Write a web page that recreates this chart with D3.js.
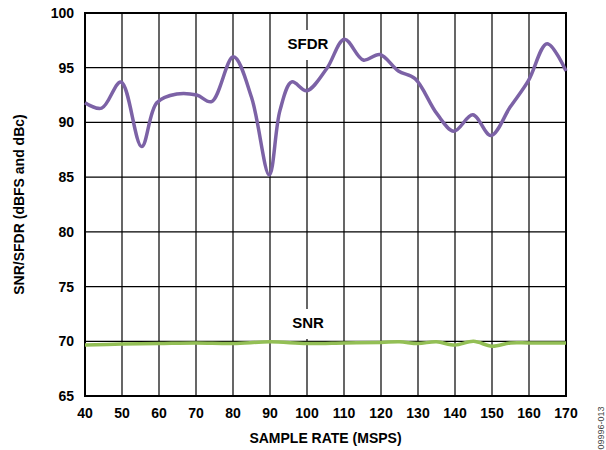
<!DOCTYPE html>
<html>
<head>
<meta charset="utf-8">
<script src="https://cdn.jsdelivr.net/npm/d3@7"></script>
<style>
  body { margin: 0; background: white; }
  svg { display: block; font-family: "Liberation Sans", Arial, sans-serif; }
</style>
</head>
<body>
<svg width="606" height="450"></svg>
<script>
// sample rate (MSPS) and values
const sfdrRate = [40, 44.5, 49.7, 55.3, 59.4, 64.8, 70.2, 74.2, 80.1, 85, 89.8, 92.7, 95.9, 99.9, 105.3, 110.1, 115.2, 119.7, 124.7, 129.2, 135.1, 139.7, 144.8, 149.7, 154.9, 159.8, 164.9, 170];
const sfdrValues = [91.8, 91.3, 93.7, 87.8, 91.8, 92.6, 92.5, 91.9, 96.0, 92.3, 85.2, 91.1, 93.7, 92.9, 94.9, 97.6, 95.7, 96.2, 94.7, 94.0, 90.8, 89.2, 90.7, 88.8, 91.4, 93.8, 97.2, 94.7];
const snrRate = [40, 50, 60, 70, 80, 90, 100, 110, 120, 125, 130, 135, 140, 145, 150, 155, 160, 170];
const snrValues = [69.65, 69.75, 69.8, 69.85, 69.8, 69.95, 69.8, 69.85, 69.9, 69.95, 69.8, 69.95, 69.65, 70.0, 69.55, 69.85, 69.85, 69.85];
const xTicks = d3.range(40, 171, 10);
const yTicks = d3.range(65, 101, 5);

const svg = d3.select("svg");
const plotLeft = 85, plotRight = 566, plotTop = 13, plotBottom = 396;

const x = d3.scaleLinear().domain([40, 170]).range([plotLeft, plotRight]);
const y = d3.scaleLinear().domain([65, 100]).range([plotBottom, plotTop]);

const grid = svg.append("g").attr("class", "grid");
grid.selectAll("line.v")
  .data(xTicks)
  .join("line")
  .attr("class", "v")
  .attr("x1", (d) => x(d))
  .attr("x2", (d) => x(d))
  .attr("y1", plotTop)
  .attr("y2", plotBottom)
  .attr("stroke", "black")
  .attr("stroke-width", 1.2);
grid.selectAll("line.h")
  .data(yTicks)
  .join("line")
  .attr("class", "h")
  .attr("x1", plotLeft)
  .attr("x2", plotRight)
  .attr("y1", (d) => y(d))
  .attr("y2", (d) => y(d))
  .attr("stroke", "black")
  .attr("stroke-width", 1.2);

svg.append("rect")
  .attr("x", plotLeft)
  .attr("y", plotTop)
  .attr("width", plotRight - plotLeft)
  .attr("height", plotBottom - plotTop)
  .attr("fill", "none")
  .attr("stroke", "black")
  .attr("stroke-width", 2);

// series labels sit on white boxes over the grid
function label(text, cx, cy) {
  svg.append("rect")
    .attr("x", cx - 26)
    .attr("y", cy - 14)
    .attr("width", 52)
    .attr("height", 30)
    .attr("fill", "white");
  svg.append("text")
    .attr("x", cx)
    .attr("y", cy + 5)
    .attr("text-anchor", "middle")
    .attr("font-size", 15)
    .attr("font-weight", "bold")
    .text(text);
}
label("SFDR", x(100) + 1, 44);
label("SNR", x(100) + 1, 323);

const line = d3.line()
  .x((d) => x(d[0]))
  .y((d) => y(d[1]))
  .curve(d3.curveCatmullRom.alpha(0.5));

svg.append("path")
  .datum(d3.zip(snrRate, snrValues))
  .attr("d", line)
  .attr("fill", "none")
  .attr("stroke", "#93bf55")
  .attr("stroke-width", 3.5)
  .attr("stroke-linejoin", "round");

svg.append("path")
  .datum(d3.zip(sfdrRate, sfdrValues))
  .attr("d", line)
  .attr("fill", "none")
  .attr("stroke", "#7c62a6")
  .attr("stroke-width", 3.5)
  .attr("stroke-linejoin", "round");

svg.append("g")
  .selectAll("text")
  .data(yTicks)
  .join("text")
  .attr("x", plotLeft - 11)
  .attr("y", (d) => y(d) + 5)
  .attr("text-anchor", "end")
  .attr("font-size", 14)
  .attr("font-weight", "bold")
  .text((d) => d);

svg.append("g")
  .selectAll("text")
  .data(xTicks)
  .join("text")
  .attr("x", (d) => x(d))
  .attr("y", plotBottom + 22)
  .attr("text-anchor", "middle")
  .attr("font-size", 14)
  .attr("font-weight", "bold")
  .text((d) => d);

svg.append("text")
  .attr("x", (plotLeft + plotRight) / 2)
  .attr("y", 443)
  .attr("text-anchor", "middle")
  .attr("font-size", 14)
  .attr("font-weight", "bold")
  .text("SAMPLE RATE (MSPS)");

svg.append("text")
  .attr("transform", `translate(24,${(plotTop + plotBottom) / 2}) rotate(-90)`)
  .attr("text-anchor", "middle")
  .attr("font-size", 14)
  .attr("font-weight", "bold")
  .text("SNR/SFDR (dBFS and dBc)");

svg.append("text")
  .attr("transform", "translate(604,428) rotate(-90)")
  .attr("text-anchor", "middle")
  .attr("font-size", 9)
  .attr("fill", "#444")
  .text("09996-013");
</script>
</body>
</html>
